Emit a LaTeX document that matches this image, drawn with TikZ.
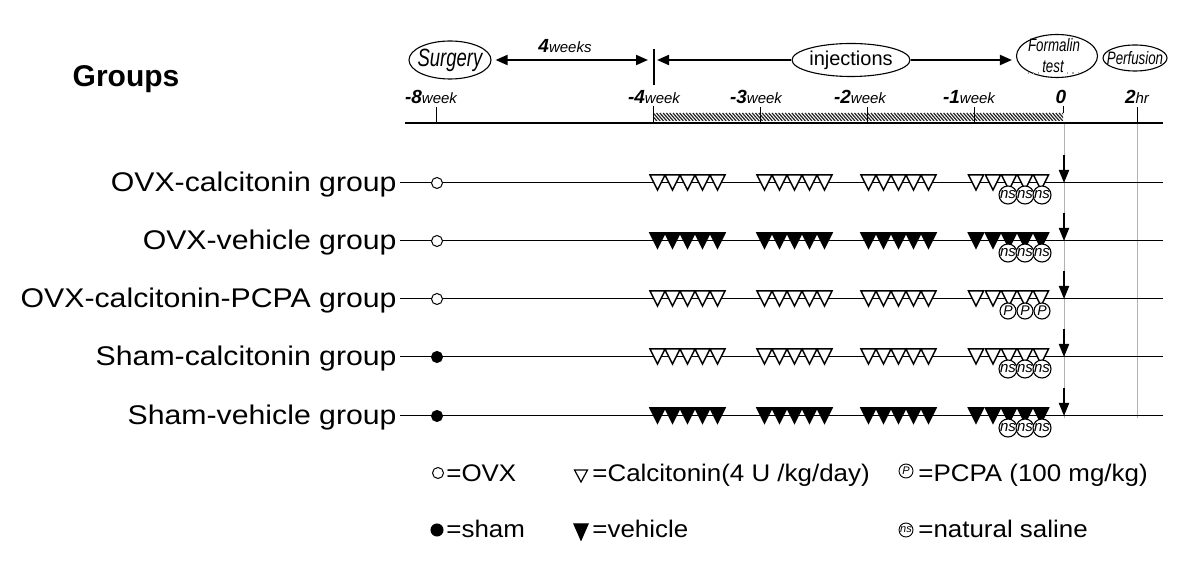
\documentclass[tikz,border=0pt]{standalone}
\usepackage{fontspec}
\setmainfont{Liberation Sans}
\newfontfamily\grpfont[FakeStretch=1.12]{Liberation Sans}
\newfontfamily\hdrfont[FakeStretch=0.74]{Liberation Sans}
\newfontfamily\legfont[FakeStretch=1.08]{Liberation Sans}
\usetikzlibrary{arrows.meta,shapes.geometric}
\newcommand\wklab[2]{{\fontsize{9.5}{9.5}\selectfont\bfseries\itshape #1}{\fontsize{7.5}{7.5}\selectfont\itshape #2}}
\tikzset{
  dtri/.pic={\draw[line width=0.75pt,fill=#1] (-7.5,-8) -- (7.5,-8) -- (0,7) -- cycle;},
  ltri/.pic={\draw[line width=0.6pt,fill=#1] (-6.5,-6) -- (6.5,-6) -- (0,6) -- cycle;},
  ftrileg/.pic={\draw[line width=0.6pt,fill=black] (-7,-8) -- (7,-8) -- (0,8) -- cycle;},
  ell/.style={draw, ellipse, line width=0.55pt, inner sep=0pt},
  hdr/.style={font=\fontsize{#1}{#1}\selectfont\hdrfont\itshape, inner sep=0pt},
  grp/.style={font=\fontsize{13.5}{13.5}\selectfont\grpfont, inner sep=0pt},
  legtext/.style={font=\fontsize{12}{12}\selectfont\legfont, inner sep=0pt, anchor=base west},
  gcirc/.style={draw, circle, line width=0.5pt, fill=#1, inner sep=0pt, minimum size=5.5pt},
  ovns/.style={draw, circle, line width=0.55pt, fill=white, inner sep=0pt, minimum size=9pt, font=\fontsize{7.5}{7.5}\selectfont\itshape},
  ovP/.style={draw, circle, line width=0.55pt, fill=white, inner sep=0pt, minimum size=8pt, font=\fontsize{7}{7}\selectfont\itshape},
  lgns/.style={draw, circle, line width=0.45pt, fill=white, inner sep=0pt, minimum size=7pt, font=\fontsize{5.5}{5.5}\selectfont\itshape},
  thinln/.style={line width=0.5pt},
  hdrarrow/.style={line width=1pt},
  downarrow/.style={line width=1pt, -{Triangle[length=6.5pt,width=5pt]}},
  gline/.style={gray!60, line width=0.5pt}
}
\begin{document}
\begin{tikzpicture}[x=0.5pt,y=-0.5pt, >={Triangle[length=6pt,width=5pt]}]
\useasboundingbox (0,0) rectangle (1200,571);
\fill[white] (0,0) rectangle (1200,571);

% title
\node[font=\bfseries\fontsize{15}{15}\selectfont, anchor=base, inner sep=0pt] (groups) at (126,87) {Groups};

% hatched band
\begin{scope}
  \clip (653,113) rectangle (1063,121);
  \foreach \x in {640,643.3,...,1075} \draw[line width=0.6pt, black!85] (\x,113) -- (\x+7,121);
\end{scope}

% axis
\coordinate (axL) at (405,123);
\coordinate (axR) at (1163,123);
\draw[line width=1.25pt] (axL) -- (axR);

% ticks
\foreach \x in {436,760,867,974,1137} \draw[thinln] (\x,107) -- (\x,122);
\draw[thinln] (653,106) -- (653,122);
\draw[thinln] (1063,106) -- (1063,113);

% gray verticals
\draw[gline] (1064,124) -- (1064,418);
\draw[gline] (1137,124) -- (1137,418);

% tick labels
\node[anchor=base, inner sep=0pt] (w8) at (431,104) {\wklab{-8}{week}};
\node[anchor=base, inner sep=0pt] (w4) at (654,104) {\wklab{-4}{week}};
\node[anchor=base, inner sep=0pt] (w3) at (756,104) {\wklab{-3}{week}};
\node[anchor=base, inner sep=0pt] (w2) at (860,104) {\wklab{-2}{week}};
\node[anchor=base, inner sep=0pt] (w1) at (969,104) {\wklab{-1}{week}};
\node[anchor=base, inner sep=0pt] (w0) at (1061,104) {\wklab{0}{}};
\node[anchor=base, inner sep=0pt] (h2) at (1137,104) {\wklab{2}{hr}};

% header ellipses
\node[ell, minimum width=41pt, minimum height=19pt] (surg) at (450,60) {};
\node[hdr=12.5] (surgT) at (surg.center) {Surgery};
\node[ell, minimum width=59pt, minimum height=16.5pt] (inj) at (851,60) {};
\node[font=\fontsize{10}{10}\selectfont, inner sep=0pt] (injT) at (inj.center) {injections};
\node[ell, minimum width=40.5pt, minimum height=21.5pt] (form) at (1057,56) {};
\node[hdr=9, anchor=base] (formA) at (1054,52) {Formalin};
\node[hdr=9, anchor=base] (formB) at (1053,73) {test};
\draw[gray!70, dotted, line width=0.6pt] ([xshift=-7pt]formB.base west) -- ([xshift=-1.5pt]formB.base west);
\draw[gray!70, dotted, line width=0.6pt] ([xshift=1.5pt]formB.base east) -- ([xshift=9pt]formB.base east);
\node[ell, minimum width=32pt, minimum height=13pt] (perf) at (1135,58) {};
\node[hdr=9] (perfT) at (perf.center) {Perfusion};

% header arrows
\coordinate (v4top) at (654,49);
\coordinate (v4bot) at (654,85);
\coordinate (v4) at (654,60);
\draw[line width=0.6pt] (v4top) -- (v4bot);
\draw[hdrarrow,<->] ([xshift=2pt]surg.east) -- ([xshift=-3pt]v4);
\draw[hdrarrow,<-] ([xshift=1.5pt]v4) -- (inj.west);
\draw[hdrarrow,->] (inj.east) -- ([xshift=-2pt]inj.east -| form.west);
\node[anchor=base, inner sep=0pt] (fw) at (565,53) {\wklab{4}{weeks}};

% group rows
\foreach \y/\lab/\ccol/\tcol/\ov [count=\i] in {
  183/OVX-calcitonin group/white/white/ns,
  241/OVX-vehicle group/white/black/ns,
  299/OVX-calcitonin-PCPA group/white/white/P,
  357/Sham-calcitonin group/black/white/ns,
  416/Sham-vehicle group/black/black/ns}{
  \coordinate (end\i) at (1163,\y);
  \node[grp, anchor=base east] (lab\i) at (397,{\y+9}) {\lab};
  \draw[thinln] ([xshift=1.5pt]lab\i.east |- end\i) -- (end\i);
  \node[gcirc=\ccol] (circ\i) at (437,\y) {};
  \foreach \x in {657.5,672.5,687.5,702.5,717.5,764.5,779.5,794.5,809.5,824.5,868.5,883.5,898.5,913.5,928.5,976,993,1009,1025,1041}
    \pic at (\x,\y) {dtri=\tcol};
  \foreach \x [count=\j] in {1008,1025,1042}
    \node[ov\ov] (ov\i\j) at (\x,{\y+12}) {\ov};
  \coordinate (at\i) at (1064,{\y-28});
  \coordinate (ab\i) at (1064,\y);
  \draw[downarrow] (at\i) -- (ab\i);
}

% legend
\node[gcirc=white] (lgo) at (438,473) {};
\node[legtext] (lgoT) at (446,482) {=OVX};
\pic at (581,476) {ltri=white};
\node[legtext] (lgcT) at (592,482) {=Calcitonin(4 U /kg/day)};
\node[lgns] (lgp) at (906,471) {P};
\node[legtext] (lgpT) at (918,482) {=PCPA (100 mg/kg)};
\node[gcirc=black, minimum size=6pt] (lgs) at (437,530) {};
\node[legtext] (lgsT) at (446,538) {=sham};
\pic at (581,532) {ftrileg};
\node[legtext] (lgvT) at (592,538) {=vehicle};
\node[lgns] (lgn) at (906,530) {ns};
\node[legtext] (lgnT) at (918,538) {=natural saline};
\end{tikzpicture}
\end{document}
